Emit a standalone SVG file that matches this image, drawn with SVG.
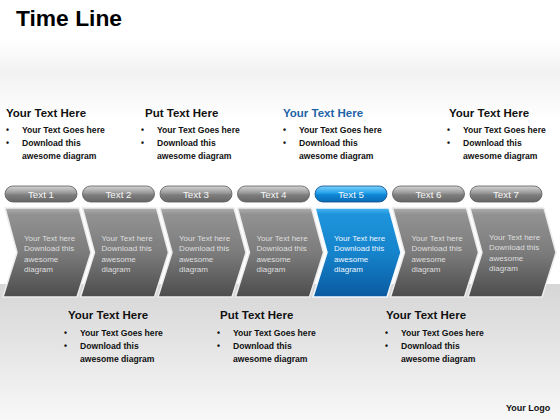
<svg xmlns="http://www.w3.org/2000/svg" width="560" height="420" viewBox="0 0 560 420">
<defs>
<linearGradient id="bgTop" x1="0" y1="0" x2="0" y2="1"><stop offset="0" stop-color="#ffffff"/><stop offset="0.4" stop-color="#f2f2f2"/><stop offset="1" stop-color="#ffffff"/></linearGradient>
<linearGradient id="bgBot" x1="0" y1="0" x2="0" y2="1"><stop offset="0" stop-color="#d6d6d6"/><stop offset="0.5" stop-color="#e6e6e6"/><stop offset="1" stop-color="#f8f8f8"/></linearGradient>
<linearGradient id="gGray" x1="0" y1="0" x2="0" y2="1"><stop offset="0" stop-color="#b0b0b0"/><stop offset="0.07" stop-color="#929292"/><stop offset="0.5" stop-color="#7c7c7c"/><stop offset="1" stop-color="#4c4c4c"/></linearGradient>
<linearGradient id="gBlue" x1="0" y1="0" x2="0" y2="1"><stop offset="0" stop-color="#4ab4f0"/><stop offset="0.07" stop-color="#1e94dc"/><stop offset="0.5" stop-color="#1584cc"/><stop offset="1" stop-color="#0a5aa0"/></linearGradient>
<linearGradient id="pGray" x1="0" y1="0" x2="0" y2="1"><stop offset="0" stop-color="#d4d4d4"/><stop offset="0.45" stop-color="#989898"/><stop offset="0.55" stop-color="#7e7e7e"/><stop offset="1" stop-color="#666666"/></linearGradient>
<linearGradient id="pBlue" x1="0" y1="0" x2="0" y2="1"><stop offset="0" stop-color="#80d2ff"/><stop offset="0.45" stop-color="#22a0e8"/><stop offset="0.55" stop-color="#0e86d4"/><stop offset="1" stop-color="#0a6cb8"/></linearGradient>
<path id="chev" d="M5,208 L79,208 L91,252.5 L77,297 L3,297 L17,252.5 Z"/>
</defs>
<style>
.h{font-family:"Liberation Sans",Arial,sans-serif;font-weight:bold;font-size:11.5px;fill:#111}
.b{font-family:"Liberation Sans",Arial,sans-serif;font-weight:bold;font-size:8.6px;fill:#111}
.ct{font-family:"Liberation Sans",Arial,sans-serif;font-size:8px;fill:#dedede}
.pt{font-family:"Liberation Sans",Arial,sans-serif;font-size:9.8px;fill:#f6f6f6;text-anchor:middle}
.cg{fill:url(#gGray);stroke:#ececec;stroke-width:1.5}
.cb{fill:url(#gBlue);stroke:#f4f9ff;stroke-width:1.5}
.pg{fill:url(#pGray);stroke:#5a5a5a;stroke-width:0.8}
.pb{fill:url(#pBlue);stroke:#0a4a88;stroke-width:0.8}
</style>
<rect x="0" y="0" width="560" height="420" fill="#ffffff"/>
<rect x="0" y="40" width="560" height="80" fill="url(#bgTop)"/>
<rect x="0" y="284" width="560" height="136" fill="url(#bgBot)"/>
<text x="16" y="26" font-family="Liberation Sans,Arial,sans-serif" font-weight="bold" font-size="22.5" fill="#000" textLength="106" lengthAdjust="spacingAndGlyphs">Time Line</text>

<g id="top1">
<text class="h" x="6" y="117">Your Text Here</text>
<text class="b" x="6" y="133">•</text><text class="b" x="22" y="133">Your Text Goes here</text>
<text class="b" x="6" y="146">•</text><text class="b" x="22" y="146">Download this</text>
<text class="b" x="22" y="159">awesome diagram</text>
</g>
<g id="top2">
<text class="h" x="145" y="117">Put Text Here</text>
<text class="b" x="141" y="133">•</text><text class="b" x="157" y="133">Your Text Goes here</text>
<text class="b" x="141" y="146">•</text><text class="b" x="157" y="146">Download this</text>
<text class="b" x="157" y="159">awesome diagram</text>
</g>
<g id="top3">
<text class="h" x="283" y="117" style="fill:#1f63a8">Your Text Here</text>
<text class="b" x="283" y="133">•</text><text class="b" x="299" y="133">Your Text Goes here</text>
<text class="b" x="283" y="146">•</text><text class="b" x="299" y="146">Download this</text>
<text class="b" x="299" y="159">awesome diagram</text>
</g>
<g id="top4">
<text class="h" x="449" y="117">Your Text Here</text>
<text class="b" x="447" y="133">•</text><text class="b" x="463" y="133">Your Text Goes here</text>
<text class="b" x="447" y="146">•</text><text class="b" x="463" y="146">Download this</text>
<text class="b" x="463" y="159">awesome diagram</text>
</g>

<g id="step1">
<rect class="pg" x="5" y="186" width="72" height="16" rx="8"/><text class="pt" x="41" y="197.5">Text 1</text>
<use href="#chev" class="cg"/>
<text class="ct" x="24" y="241">Your Text here</text><text class="ct" x="24" y="251">Download this</text><text class="ct" x="24" y="262">awesome</text><text class="ct" x="24" y="272">diagram</text>
</g>
<g id="step2" transform="translate(77.5,0)">
<rect class="pg" x="5" y="186" width="72" height="16" rx="8"/><text class="pt" x="41" y="197.5">Text 2</text>
<use href="#chev" class="cg"/>
<text class="ct" x="24" y="241">Your Text here</text><text class="ct" x="24" y="251">Download this</text><text class="ct" x="24" y="262">awesome</text><text class="ct" x="24" y="272">diagram</text>
</g>
<g id="step3" transform="translate(155,0)">
<rect class="pg" x="5" y="186" width="72" height="16" rx="8"/><text class="pt" x="41" y="197.5">Text 3</text>
<use href="#chev" class="cg"/>
<text class="ct" x="24" y="241">Your Text here</text><text class="ct" x="24" y="251">Download this</text><text class="ct" x="24" y="262">awesome</text><text class="ct" x="24" y="272">diagram</text>
</g>
<g id="step4" transform="translate(232.5,0)">
<rect class="pg" x="5" y="186" width="72" height="16" rx="8"/><text class="pt" x="41" y="197.5">Text 4</text>
<use href="#chev" class="cg"/>
<text class="ct" x="24" y="241">Your Text here</text><text class="ct" x="24" y="251">Download this</text><text class="ct" x="24" y="262">awesome</text><text class="ct" x="24" y="272">diagram</text>
</g>
<g id="step5" transform="translate(310,0)">
<rect class="pb" x="5" y="186" width="72" height="16" rx="8"/><text class="pt" x="41" y="197.5">Text 5</text>
<use href="#chev" class="cb"/>
<text class="ct" x="24" y="241" style="fill:#eef6ff">Your Text here</text><text class="ct" x="24" y="251" style="fill:#eef6ff">Download this</text><text class="ct" x="24" y="262" style="fill:#eef6ff">awesome</text><text class="ct" x="24" y="272" style="fill:#eef6ff">diagram</text>
</g>
<g id="step6" transform="translate(387.5,0)">
<rect class="pg" x="5" y="186" width="72" height="16" rx="8"/><text class="pt" x="41" y="197.5">Text 6</text>
<use href="#chev" class="cg"/>
<text class="ct" x="24" y="241">Your Text here</text><text class="ct" x="24" y="251">Download this</text><text class="ct" x="24" y="262">awesome</text><text class="ct" x="24" y="272">diagram</text>
</g>
<g id="step7" transform="translate(465,0)">
<rect class="pg" x="5" y="186" width="72" height="16" rx="8"/><text class="pt" x="41" y="197.5">Text 7</text>
<use href="#chev" class="cg"/>
<text class="ct" x="24" y="240">Your Text here</text><text class="ct" x="24" y="250">Download this</text><text class="ct" x="24" y="261">awesome</text><text class="ct" x="24" y="271">diagram</text>
</g>

<g id="bot1">
<text class="h" x="68" y="319">Your Text Here</text>
<text class="b" x="64" y="336">•</text><text class="b" x="80" y="336">Your Text Goes here</text>
<text class="b" x="64" y="349">•</text><text class="b" x="80" y="349">Download this</text>
<text class="b" x="80" y="362">awesome diagram</text>
</g>
<g id="bot2">
<text class="h" x="220" y="319">Put Text Here</text>
<text class="b" x="217" y="336">•</text><text class="b" x="233" y="336">Your Text Goes here</text>
<text class="b" x="217" y="349">•</text><text class="b" x="233" y="349">Download this</text>
<text class="b" x="233" y="362">awesome diagram</text>
</g>
<g id="bot3">
<text class="h" x="386" y="319">Your Text Here</text>
<text class="b" x="385" y="336">•</text><text class="b" x="401" y="336">Your Text Goes here</text>
<text class="b" x="385" y="349">•</text><text class="b" x="401" y="349">Download this</text>
<text class="b" x="401" y="362">awesome diagram</text>
</g>
<text x="506" y="411" font-family="Liberation Sans,Arial,sans-serif" font-weight="bold" font-size="9" fill="#111">Your Logo</text>
</svg>
